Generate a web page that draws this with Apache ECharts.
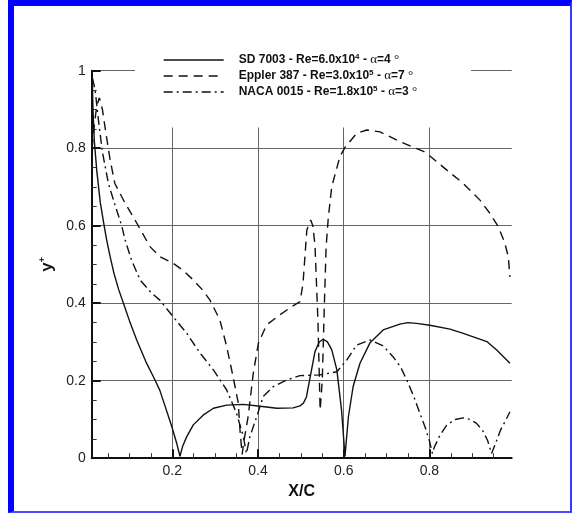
<!DOCTYPE html>
<html><head><meta charset="utf-8">
<script src="https://cdn.jsdelivr.net/npm/echarts@6/dist/echarts.min.js"></script>
<style>
html,body{margin:0;padding:0;background:#fff;}
#chart{position:absolute;left:0;top:0;width:572px;height:513px;}
#frame{position:absolute;left:8px;top:0;width:564px;height:513px;box-sizing:border-box;border-left:6px solid #0000ff;border-top:6px solid #0000ff;border-right:2px solid #3a3aff;border-bottom:2px solid #4a4aff;pointer-events:none;}
</style>
</head><body><div id="chart"></div><div id="frame"></div>
<script>
// ---- data ----
const sdX = [0.013,0.015,0.018,0.024,0.032,0.041,0.047,0.055,0.064,0.075,0.086,0.100,0.117,0.138,0.160,0.171,0.183,0.199,0.210,0.218,0.224,0.2335,0.249,0.272,0.296,0.327,0.366,0.405,0.444,0.482,0.498,0.506,0.513,0.521,0.533,0.543,0.552,0.562,0.572,0.584,0.595,0.603,0.611,0.622,0.638,0.661,0.692,0.731,0.750,0.770,0.801,0.848,0.879,0.934,0.957,0.988];
const sdY = [0.99,0.90,0.82,0.74,0.66,0.60,0.563,0.52,0.477,0.435,0.40,0.355,0.305,0.25,0.201,0.175,0.135,0.081,0.04,0.005,0.03,0.055,0.086,0.111,0.129,0.137,0.139,0.134,0.129,0.130,0.135,0.142,0.158,0.205,0.275,0.300,0.307,0.300,0.280,0.228,0.124,0.005,0.107,0.185,0.245,0.297,0.331,0.346,0.350,0.348,0.343,0.333,0.322,0.301,0.279,0.245];

const epX = [0.013,0.018,0.024,0.030,0.037,0.045,0.055,0.066,0.090,0.117,0.148,0.171,0.202,0.225,0.249,0.270,0.288,0.311,0.327,0.342,0.354,0.358,0.363,0.368,0.377,0.389,0.401,0.420,0.451,0.480,0.498,0.505,0.514,0.523,0.528,0.533,0.540,0.545,0.550,0.555,0.559,0.564,0.572,0.591,0.603,0.630,0.654,0.685,0.731,0.786,0.801,0.840,0.879,0.918,0.941,0.961,0.976,0.984,0.988];
const epY = [0.80,0.86,0.91,0.93,0.90,0.84,0.77,0.709,0.658,0.607,0.546,0.520,0.503,0.485,0.460,0.435,0.408,0.357,0.288,0.210,0.142,0.073,0.010,0.05,0.107,0.219,0.297,0.344,0.370,0.392,0.404,0.45,0.589,0.615,0.600,0.550,0.350,0.124,0.20,0.40,0.546,0.62,0.70,0.778,0.802,0.838,0.847,0.842,0.817,0.792,0.780,0.744,0.709,0.666,0.632,0.597,0.555,0.520,0.468];

const naX = [0.014,0.020,0.028,0.037,0.051,0.066,0.082,0.090,0.105,0.125,0.150,0.171,0.202,0.234,0.265,0.296,0.327,0.350,0.366,0.373,0.381,0.397,0.412,0.436,0.467,0.498,0.545,0.584,0.607,0.630,0.661,0.692,0.715,0.733,0.750,0.765,0.778,0.790,0.800,0.807,0.812,0.825,0.840,0.860,0.879,0.895,0.910,0.925,0.936,0.945,0.955,0.966,0.978,0.988];
const naY = [0.98,0.95,0.87,0.79,0.709,0.655,0.600,0.563,0.511,0.460,0.428,0.408,0.365,0.322,0.271,0.228,0.176,0.116,0.055,0.012,0.055,0.107,0.159,0.185,0.202,0.213,0.215,0.223,0.253,0.292,0.305,0.290,0.262,0.235,0.195,0.155,0.115,0.080,0.045,0.012,0.030,0.060,0.085,0.100,0.104,0.100,0.090,0.070,0.045,0.012,0.040,0.073,0.098,0.120];

const seriesNames = ['SD 7003', 'Eppler 387', 'NACA 0015'];
const reMantissa = ['6.0', '3.0', '1.8'];
const reExponent = ['4', '5', '5'];
const alphaDeg = ['4', '7', '3'];
const xTickValues = [0.2, 0.4, 0.6, 0.8];
const xMinorTickValues = [0.05, 0.1, 0.15, 0.25, 0.3, 0.35, 0.45, 0.5, 0.55, 0.65, 0.7, 0.75, 0.85, 0.9, 0.95];
const xLimits = [0.012, 0.992];
const yLimits = [0, 1];
const xTitle = 'X/C';

// ---- chart ----
const FONT = '"Liberation Sans", Arial, Helvetica, sans-serif';
const SERIF = '"Liberation Serif", "Times New Roman", serif';
const zip = (a, b) => a.map((v, i) => [v, b[i]]);

const legendText = {};
seriesNames.forEach((n, i) => {
  legendText[n] = n + ' - Re=' + reMantissa[i] + 'x10{sup|' + reExponent[i] + '} - {g|α}=' + alphaDeg[i] + '{g| °}';
});

const lineColor = '#111';
const chart = echarts.init(document.getElementById('chart'), null, {renderer: 'canvas'});
chart.setOption({
  animation: false,
  backgroundColor: 'transparent',
  grid: {left: 91.7, top: 70.7, width: 420, height: 387.5, containLabel: false},
  xAxis: [{
    type: 'value', position: 'bottom', min: xLimits[0], max: xLimits[1], splitNumber: 5,
    name: xTitle, nameLocation: 'middle', nameGap: 13,
    nameTextStyle: {fontFamily: FONT, fontWeight: 'bold', fontSize: 16, color: '#111'},
    axisLine: {show: true, onZero: false, lineStyle: {color: '#111', width: 2}},
    axisTick: {show: true, inside: true, length: 9, customValues: xTickValues, lineStyle: {color: '#111', width: 2}},
    minorTick: {show: false},
    axisLabel: {customValues: xTickValues, margin: 6, fontFamily: FONT, fontSize: 14, color: '#222'},
    splitLine: {show: true, lineStyle: {color: '#666', width: 1}}
  }, {
    type: 'value', position: 'bottom', offset: 0, min: xLimits[0], max: xLimits[1],
    axisLine: {show: false, onZero: false},
    axisTick: {show: true, inside: true, length: 5, customValues: xMinorTickValues, lineStyle: {color: '#333', width: 1}},
    axisLabel: {show: false},
    splitLine: {show: false}
  }],
  yAxis: {
    type: 'value', min: yLimits[0], max: yLimits[1], interval: 0.2,
    name: '{y|y}{s|+}', nameLocation: 'middle', nameGap: 21, nameRotate: 90,
    nameTextStyle: {rich: {
      y: {fontFamily: FONT, fontWeight: 'bold', fontSize: 17, color: '#111', lineHeight: 18},
      s: {fontFamily: FONT, fontWeight: 'bold', fontSize: 9, color: '#111', verticalAlign: 'top', lineHeight: 18}
    }},
    axisLine: {show: true, onZero: false, lineStyle: {color: '#111', width: 2}},
    axisTick: {show: true, inside: true, length: 9, lineStyle: {color: '#111', width: 2}},
    minorTick: {show: true, splitNumber: 4, length: 5, lineStyle: {color: '#333', width: 1}},
    axisLabel: {margin: 6, fontFamily: FONT, fontSize: 14, color: '#222'},
    splitLine: {show: true, lineStyle: {color: '#666', width: 1}}
  },
  graphic: [{
    type: 'rect', z: 5, silent: true,
    shape: {x: 135, y: 40, width: 336, height: 87.5},
    style: {fill: '#fff'}
  }],
  legend: {
    z: 10, orient: 'vertical', align: 'left', left: 158, top: 48, padding: 5,
    itemWidth: 60, itemHeight: 14, itemGap: 2,
    lineStyle: {width: 1.4},
    itemStyle: {opacity: 0, color: 'rgba(0,0,0,0)', borderWidth: 0},
    formatter: name => legendText[name],
    textStyle: {
      fontFamily: FONT, fontWeight: 'bold', fontSize: 12, color: '#111', lineHeight: 14,
      padding: [0, 0, 0, 10],
      rich: {
        sup: {fontFamily: FONT, fontWeight: 'bold', fontSize: 8, color: '#111', verticalAlign: 'top', lineHeight: 14},
        g: {fontFamily: SERIF, fontWeight: 'normal', fontSize: 13, color: '#111', lineHeight: 14}
      }
    },
    data: seriesNames
  },
  series: [
    {name: seriesNames[0], type: 'line', data: zip(sdX, sdY), showSymbol: false, symbol: 'none', smooth: false,
     lineStyle: {color: lineColor, width: 1.4, type: 'solid'}, itemStyle: {color: lineColor}},
    {name: seriesNames[1], type: 'line', data: zip(epX, epY), showSymbol: false, symbol: 'none', smooth: false,
     lineStyle: {color: lineColor, width: 1.4, type: [9, 6]}, itemStyle: {color: lineColor}},
    {name: seriesNames[2], type: 'line', data: zip(naX, naY), showSymbol: false, symbol: 'none', smooth: false,
     lineStyle: {color: lineColor, width: 1.4, type: [9, 4, 2, 4]}, itemStyle: {color: lineColor}}
  ]
});
</script></body></html>
